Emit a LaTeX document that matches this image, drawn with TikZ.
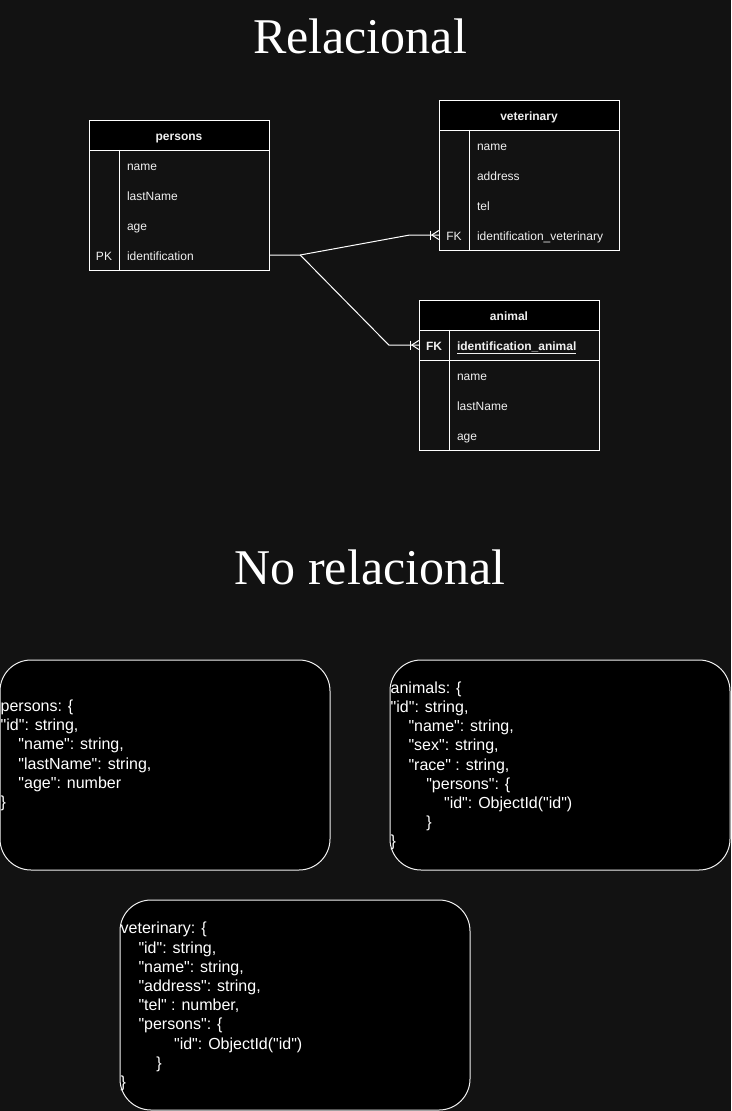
\documentclass[tikz,border=0pt]{standalone}
\usepackage{fontspec}
\setmainfont{Liberation Serif}
\newfontfamily\arialf{Liberation Sans}
\usetikzlibrary{calc}
\definecolor{bg}{HTML}{121212}
\definecolor{fg}{HTML}{F0F0F0}
\newcommand\ind[1]{\hspace*{\dimexpr 4.45pt*#1\relax}}
\tikzset{
  tfont/.style={font=\arialf\fontsize{12}{14}\selectfont, text=fg, text height=12.5pt, text depth=2.5pt},
  hdr/.style={draw=white, fill=black, line width=1pt, minimum width=180pt, minimum height=30pt, inner sep=0pt, tfont, font=\arialf\bfseries\fontsize{12}{14}\selectfont},
  tframe/.style={draw=white, line width=1pt, minimum width=180pt, minimum height=150pt, inner sep=0pt},
  keycell/.style={minimum width=30pt, minimum height=30pt, inner sep=0pt, tfont},
  fieldcell/.style={text width=134pt, inner xsep=8pt, inner ysep=0pt, minimum height=30pt, align=left, tfont},
  rel/.style={draw=white, line width=1pt},
  title/.style={text=white, font=\fontsize{50}{60}\selectfont, inner sep=0pt},
  jbox/.style={draw=fg, fill=black, line width=1pt, rounded corners=31pt, inner sep=0pt},
  jtext/.style={text=white, font=\arialf\fontsize{16}{19.2}\selectfont, align=left, inner sep=0pt, anchor=west}
}
\newcommand\crowfoot[1]{%
  \draw[rel] ($(#1.west)+(-8,-4.5)$) -- ($(#1.west)+(-8,4.5)$);
  \draw[rel] ($(#1.west)+(-7,0)$) -- ($(#1.west)+(0,-4.5)$);
  \draw[rel] ($(#1.west)+(-7,0)$) -- ($(#1.west)+(0,4.5)$);}
\begin{document}
\begin{tikzpicture}[x=1pt,y=-1pt]
\useasboundingbox (0,0) rectangle (731,1111);
\fill[bg] (0,0) rectangle (731,1111);

% titles
\node[title] (t1) at (360,36) {Relacional};
\node[title] (t2) at (370,567) {No relacional};

% persons table
\node[tframe] (persons) at (179,195) {};
\node[hdr] (personsH) at (179,135) {persons};
\node[keycell] (pk1) at (104,165) {};
\node[fieldcell] (p1) at (194,165) {name};
\node[keycell] (pk2) at (104,195) {};
\node[fieldcell] (p2) at (194,195) {lastName};
\node[keycell] (pk3) at (104,225) {};
\node[fieldcell] (p3) at (194,225) {age};
\node[keycell] (pk4) at (104,255) {PK};
\node[fieldcell] (p4) at (194,255) {identification};
\draw[rel] (pk1.north east) -- (pk4.south east);

% veterinary table
\node[tframe] (vet) at (529,175) {};
\node[hdr] (vetH) at (529,115) {veterinary};
\node[keycell] (vk1) at (454,145) {};
\node[fieldcell] (v1) at (544,145) {name};
\node[keycell] (vk2) at (454,175) {};
\node[fieldcell] (v2) at (544,175) {address};
\node[keycell] (vk3) at (454,205) {};
\node[fieldcell] (v3) at (544,205) {tel};
\node[keycell] (vk4) at (454,235) {FK};
\node[fieldcell] (v4) at (544,235) {identification\_veterinary};
\draw[rel] (vk1.north east) -- (vk4.south east);

% animal table
\node[tframe] (animal) at (509,375) {};
\node[hdr] (animalH) at (509,315) {animal};
\node[keycell, font=\arialf\bfseries\fontsize{12}{14}\selectfont] (ak1) at (434,345) {FK};
\node[fieldcell, font=\arialf\bfseries\fontsize{12}{14}\selectfont] (a1) at (524,345) {\underline{identification\_animal}};
\node[keycell] (ak2) at (434,375) {};
\node[fieldcell] (a2) at (524,375) {name};
\node[keycell] (ak3) at (434,405) {};
\node[fieldcell] (a3) at (524,405) {lastName};
\node[keycell] (ak4) at (434,435) {};
\node[fieldcell] (a4) at (524,435) {age};
\draw[rel] (ak1.north east) -- (ak4.south east);
\draw[rel] (ak1.south west) -- (a1.south east);

% relations
\draw[rel] (p4.east) -- ++(31,0) coordinate (j) -- ($(vk4.west)+(-29,0)$) -- (vk4.west);
\draw[rel] (j) -- ($(ak1.west)+(-30,0)$) -- (ak1.west);
\crowfoot{vk4}
\crowfoot{ak1}

% JSON boxes
\node[jbox, minimum width=330pt, minimum height=210pt] (jp) at (165,765) {};
\node[jtext] (jpt) at ($(jp.west)+(1,-9.6)$) {persons: \{\\
"id": string,\\
\ind{4}"name": string,\\
\ind{4}"lastName": string,\\
\ind{4}"age": number\\
\}};

\node[jbox, minimum width=340pt, minimum height=210pt] (ja) at (560,765) {};
\node[jtext] (jat) at ($(ja.west)+(1,1)$) {animals: \{\\
"id": string,\\
\ind{4}"name": string,\\
\ind{4}"sex": string,\\
\ind{4}"race" : string,\\
\ind{8}"persons": \{\\
\ind{12}"id": ObjectId("id")\\
\ind{8}\}\\
\}};

\node[jbox, minimum width=350pt, minimum height=210pt] (jv) at (295,1005) {};
\node[jtext] (jvt) at ($(jv.west)+(1,1.5)$) {veterinary: \{\\
\ind{4}"id": string,\\
\ind{4}"name": string,\\
\ind{4}"address": string,\\
\ind{4}"tel" : number,\\
\ind{4}"persons": \{\\
\ind{12}"id": ObjectId("id")\\
\ind{8}\}\\
\}};
\end{tikzpicture}
\end{document}
